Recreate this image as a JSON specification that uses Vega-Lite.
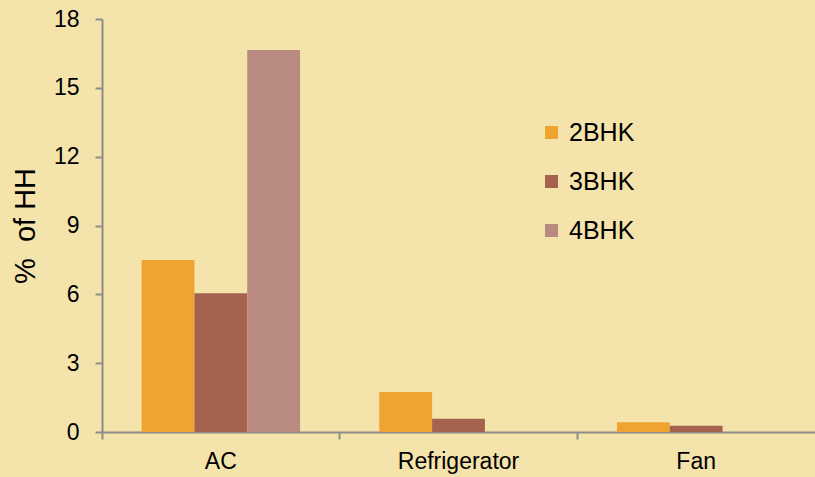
{
  "$schema": "https://vega.github.io/schema/vega-lite/v6.json",
  "width": 713,
  "height": 413,
  "autosize": {"type": "none"},
  "padding": {"left": 102, "top": 19, "right": 0, "bottom": 45},
  "background": "#F4E3AA",
  "config": {
    "view": {"stroke": null},
    "font": "Liberation Sans"
  },
  "data": {
    "values": [
      {"item": "AC", "type": "2BHK", "pct": 7.5},
      {"item": "AC", "type": "3BHK", "pct": 6.05},
      {"item": "AC", "type": "4BHK", "pct": 16.65},
      {"item": "Refrigerator", "type": "2BHK", "pct": 1.74},
      {"item": "Refrigerator", "type": "3BHK", "pct": 0.58},
      {"item": "Refrigerator", "type": "4BHK", "pct": 0},
      {"item": "Fan", "type": "2BHK", "pct": 0.42},
      {"item": "Fan", "type": "3BHK", "pct": 0.27},
      {"item": "Fan", "type": "4BHK", "pct": 0}
    ]
  },
  "mark": {"type": "bar"},
  "encoding": {
    "x": {
      "field": "item",
      "type": "nominal",
      "sort": ["AC", "Refrigerator", "Fan"],
      "scale": {"paddingInner": 0, "paddingOuter": 0},
      "axis": {
        "title": null,
        "labelAngle": 0,
        "labelFontSize": 23,
        "labelColor": "#000000",
        "labelPadding": 11,
        "bandPosition": 0,
        "domainColor": "#8C8C8C",
        "domainWidth": 2,
        "tickColor": "#8C8C8C",
        "tickWidth": 2,
        "tickSize": 7,
        "labelBound": false
      }
    },
    "xOffset": {
      "field": "type",
      "type": "nominal",
      "scale": {"paddingInner": 0, "paddingOuter": 0.75}
    },
    "y": {
      "field": "pct",
      "type": "quantitative",
      "scale": {"domain": [0, 18]},
      "axis": {
        "title": "%\u00a0\u00a0of HH",
        "titleFontSize": 29,
        "titleFontWeight": "normal",
        "titleColor": "#000000",
        "titlePadding": 13,
        "values": [0, 3, 6, 9, 12, 15, 18],
        "grid": false,
        "labelFontSize": 23,
        "labelColor": "#000000",
        "labelPadding": 16,
        "domainColor": "#8C8C8C",
        "domainWidth": 2,
        "tickColor": "#8C8C8C",
        "tickWidth": 2,
        "tickSize": 7
      }
    },
    "color": {
      "field": "type",
      "type": "nominal",
      "scale": {
        "domain": ["2BHK", "3BHK", "4BHK"],
        "range": ["#EFA330", "#A5634F", "#B88A80"]
      },
      "legend": {
        "title": null,
        "orient": "none",
        "legendX": 437,
        "legendY": 101,
        "symbolType": "square",
        "symbolSize": 169,
        "symbolStrokeWidth": 0,
        "labelFontSize": 25,
        "labelColor": "#000000",
        "labelOffset": 5,
        "rowPadding": 23
      }
    }
  }
}
